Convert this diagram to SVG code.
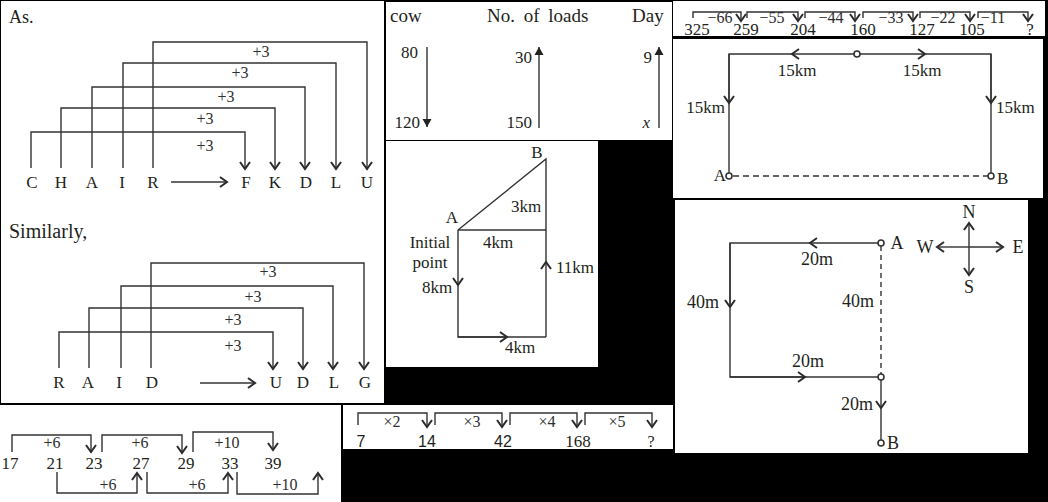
<svg xmlns="http://www.w3.org/2000/svg" width="1048" height="502" viewBox="0 0 1048 502">
<style>
.pn{fill:#fff}
.ln{fill:none;stroke:#333;stroke-width:1.4}
.ds{fill:none;stroke:#333;stroke-width:1.4;stroke-dasharray:6 4}
.ca{marker-end:url(#chev)}
.ta{marker-end:url(#tri)}
.dot{fill:#fff;stroke:#333;stroke-width:1.6}
text{font-family:"Liberation Serif","Times New Roman",serif;fill:#231f20}
.m{text-anchor:middle}
.e{text-anchor:end}
.lb{fill:#2e2e2e;font-size:16px}
.sn{font-family:"Liberation Sans",Arial,sans-serif}
</style>
<defs>
<marker id="chev" viewBox="-9 -6 11 12" markerUnits="userSpaceOnUse" markerWidth="11" markerHeight="12" refX="0" refY="0" orient="auto">
<path d="M-7,-5 L0,0 L-7,5" fill="none" stroke="#2b2b2b" stroke-width="2"/>
</marker>
<marker id="tri" viewBox="-9 -5 10 10" markerUnits="userSpaceOnUse" markerWidth="10" markerHeight="10" refX="0" refY="0" orient="auto">
<path d="M-8,-4.5 L0,0 L-8,4.5 Z" fill="#222"/>
</marker>
</defs>
<rect x="0" y="0" width="1048" height="502" fill="#000"/>

<!-- Panel 1: CHAIR / RAID -->
<g id="panel-chair">
<rect class="pn" x="1" y="1" width="383" height="402"/>
<g id="chair-connectors">
<path class="ln ca" d="M31,168 V132 H245 V169"/>
<path class="ln ca" d="M61,168 V108 H275 V169"/>
<path class="ln ca" d="M92,168 V87 H305 V169"/>
<path class="ln ca" d="M123,168 V63 H336 V169"/>
<path class="ln ca" d="M153,168 V42 H367 V169"/>
<path class="ln ca" d="M171,182 H227"/>
<path class="ln ca" d="M59,368 V332 H273 V369"/>
<path class="ln ca" d="M89,368 V308 H303 V369"/>
<path class="ln ca" d="M121,368 V286 H333 V369"/>
<path class="ln ca" d="M151,368 V263 H364 V369"/>
<path class="ln ca" d="M200,383 H255"/>
</g>
<g id="chair-nodes" font-size="17">
<text x="9" y="23" font-size="18">As.</text>
<text class="m" x="32" y="188">C</text>
<text class="m" x="61" y="188">H</text>
<text class="m" x="92" y="188">A</text>
<text class="m" x="122" y="188">I</text>
<text class="m" x="153" y="188">R</text>
<text class="m" x="246" y="188">F</text>
<text class="m" x="275" y="188">K</text>
<text class="m" x="306" y="188">D</text>
<text class="m" x="336" y="188">L</text>
<text class="m" x="367" y="188">U</text>
<text class="m lb" x="261" y="57">+3</text>
<text class="m lb" x="240" y="78">+3</text>
<text class="m lb" x="226" y="102">+3</text>
<text class="m lb" x="205" y="124">+3</text>
<text class="m lb" x="205" y="151">+3</text>
<text x="9" y="238" font-size="20">Similarly,</text>
<text class="m" x="59" y="388">R</text>
<text class="m" x="88" y="388">A</text>
<text class="m" x="119" y="388">I</text>
<text class="m" x="152" y="388">D</text>
<text class="m" x="276" y="388">U</text>
<text class="m" x="303" y="388">D</text>
<text class="m" x="334" y="388">L</text>
<text class="m" x="365" y="388">G</text>
<text class="m lb" x="268" y="277">+3</text>
<text class="m lb" x="253" y="302">+3</text>
<text class="m lb" x="233" y="325">+3</text>
<text class="m lb" x="233" y="351">+3</text>
</g>
</g>

<!-- Panel 2: cows / loads / days -->
<g id="panel-cow">
<rect class="pn" x="386" y="2" width="286" height="138"/>
<g id="cow-connectors">
<path class="ln ta" d="M427,47 V127"/>
<path class="ln ta" d="M539,128 V47"/>
<path class="ln ta" d="M659,128 V47"/>
</g>
<g id="cow-nodes" font-size="17">
<text x="390" y="22" font-size="19">cow</text>
<text x="487" y="22" font-size="19" word-spacing="4">No. of loads</text>
<text x="632" y="22" font-size="19">Day</text>
<text class="e" x="418" y="58">80</text>
<text class="e" x="420" y="128">120</text>
<text class="e" x="532" y="63">30</text>
<text class="e" x="532" y="128">150</text>
<text class="e" x="652" y="63">9</text>
<text class="e" x="650" y="128" font-style="italic">x</text>
</g>
</g>

<!-- Panel 3: triangle route -->
<g id="panel-route">
<rect class="pn" x="386" y="141" width="212" height="226"/>
<g id="route-connectors">
<path class="ln" d="M458,230 L546,159 V262"/>
<path class="ln ca" d="M546,337 V262"/>
<path class="ln" d="M458,230 H546"/>
<path class="ln ca" d="M458,230 V285"/>
<path class="ln" d="M458,285 V337 H507"/>
<path class="ln ca" d="M458,337 H507"/>
<path class="ln" d="M507,337 H546"/>
</g>
<g id="route-nodes" font-size="17">
<text class="m" x="537" y="158">B</text>
<text class="m" x="526" y="212">3km</text>
<text class="m" x="452" y="223">A</text>
<text class="m" x="498" y="248">4km</text>
<text class="m" x="430" y="248">Initial</text>
<text class="m" x="430" y="268">point</text>
<text class="m" x="437" y="293">8km</text>
<text x="556" y="273">11km</text>
<text class="m" x="520" y="353">4km</text>
</g>
</g>

<!-- Panel 4: series 325 -->
<g id="panel-series1">
<rect class="pn" x="673" y="1" width="372" height="35"/>
<g id="series1-connectors">
<path class="ln ca" d="M693,18 V12 H741 V21"/>
<path class="ln ca" d="M747,18 V12 H798 V21"/>
<path class="ln ca" d="M805,18 V12 H855 V21"/>
<path class="ln ca" d="M863,18 V12 H913 V21"/>
<path class="ln ca" d="M920,18 V12 H970 V21"/>
<path class="ln ca" d="M978,18 V12 H1028 V21"/>
</g>
<g id="series1-nodes" font-size="17">
<text class="m" x="697" y="35">325</text>
<text class="m" x="746" y="35">259</text>
<text class="m" x="803" y="35">204</text>
<text class="m" x="863" y="35">160</text>
<text class="m" x="922" y="35">127</text>
<text class="m" x="972" y="35">105</text>
<text class="m" x="1030" y="35">?</text>
<text class="m lb" x="720" y="23">−66</text>
<text class="m lb" x="772" y="23">−55</text>
<text class="m lb" x="831" y="23">−44</text>
<text class="m lb" x="891" y="23">−33</text>
<text class="m lb" x="943" y="23">−22</text>
<text class="m lb" x="993" y="23">−11</text>
</g>
</g>

<!-- Panel 5: 15km route -->
<g id="panel-15km">
<rect class="pn" x="673" y="39" width="370" height="159"/>
<g id="km-connectors">
<path class="ln ca" d="M854,54 H792"/>
<path class="ln" d="M792,54 H729 V103"/>
<path class="ln ca" d="M860,54 H925"/>
<path class="ln" d="M925,54 H991 V103"/>
<path class="ln ca" d="M729,54 V103"/>
<path class="ln" d="M729,103 V173"/>
<path class="ln ca" d="M991,54 V103"/>
<path class="ln" d="M991,103 V173"/>
<path class="ds" d="M733,176 H988"/>
</g>
<g id="km-nodes" font-size="17">
<circle class="dot" cx="857" cy="54" r="3"/>
<circle class="dot" cx="729" cy="176" r="3"/>
<circle class="dot" cx="991" cy="176" r="3"/>
<text class="m" x="797" y="76">15km</text>
<text class="m" x="922" y="76">15km</text>
<text class="e" x="725" y="113">15km</text>
<text x="996" y="113">15km</text>
<text class="e" x="726" y="181">A</text>
<text x="997" y="184">B</text>
</g>
</g>

<!-- Panel 6: 20m route with compass -->
<g id="panel-20m">
<rect class="pn" x="675" y="200" width="353" height="253"/>
<g id="m-connectors">
<path class="ln ca" d="M878,243 H810"/>
<path class="ln" d="M810,243 H730 V307"/>
<path class="ln ca" d="M730,243 V307"/>
<path class="ln" d="M730,307 V377 H805"/>
<path class="ln ca" d="M730,377 H805"/>
<path class="ln" d="M805,377 H878"/>
<path class="ds" d="M881,246 V374" style="stroke-dasharray:5 4"/>
<path class="ln ca" d="M881,380 V408"/>
<path class="ln" d="M881,408 V440"/>
<path class="ln ca" d="M969,247 V223"/>
<path class="ln ca" d="M969,247 V275"/>
<path class="ln ca" d="M969,247 H937"/>
<path class="ln ca" d="M969,247 H1003"/>
</g>
<g id="m-nodes" font-size="18">
<circle class="dot" cx="881" cy="243" r="3"/>
<circle class="dot" cx="881" cy="377" r="3"/>
<circle class="dot" cx="881" cy="443" r="3"/>
<text class="m" x="897" y="249">A</text>
<text class="m" x="817" y="265">20m</text>
<text class="m" x="703" y="308">40m</text>
<text class="m" x="808" y="367">20m</text>
<text class="m" x="858" y="307">40m</text>
<text class="m" x="857" y="410">20m</text>
<text class="m" x="893" y="449">B</text>
<text class="m" x="969" y="218">N</text>
<text class="m" x="969" y="293">S</text>
<text class="m" x="925" y="253">W</text>
<text class="m" x="1018" y="253">E</text>
</g>
</g>

<!-- Panel 7: series 17 -->
<g id="panel-series2">
<rect class="pn" x="0" y="405" width="341" height="97"/>
<g id="series2-connectors">
<path class="ln ca" d="M12,452 V435 H91 V452"/>
<path class="ln ca" d="M102,452 V435 H182 V453"/>
<path class="ln ca" d="M193,452 V432 H273 V450"/>
<path class="ln ca" d="M57,472 V493 H137 V473"/>
<path class="ln ca" d="M147,472 V493 H228 V473"/>
<path class="ln ca" d="M237,472 V494 H318 V473"/>
</g>
<g id="series2-nodes" font-size="17">
<text class="m" x="10" y="469">17</text>
<text class="m" x="55" y="469">21</text>
<text class="m" x="94" y="469">23</text>
<text class="m" x="141" y="469">27</text>
<text class="m" x="186" y="469">29</text>
<text class="m" x="230" y="469">33</text>
<text class="m" x="273" y="469">39</text>
<text class="m lb" x="52" y="448">+6</text>
<text class="m lb" x="140" y="448">+6</text>
<text class="m lb" x="227" y="448">+10</text>
<text class="m lb" x="108" y="490">+6</text>
<text class="m lb" x="197" y="490">+6</text>
<text class="m lb" x="285" y="490">+10</text>
</g>
</g>

<!-- Panel 8: series 7 -->
<g id="panel-series3">
<rect class="pn" x="343" y="405" width="330" height="44"/>
<g id="series3-connectors">
<path class="ln ca" d="M358,425 V413 H427 V427"/>
<path class="ln ca" d="M435,425 V413 H502 V427"/>
<path class="ln ca" d="M510,425 V413 H577 V427"/>
<path class="ln ca" d="M585,425 V413 H652 V427"/>
</g>
<g id="series3-nodes" font-size="16">
<text class="m sn" x="361" y="447">7</text>
<text class="m sn" x="427" y="447">14</text>
<text class="m sn" x="503" y="447">42</text>
<text class="m" x="578" y="447" font-size="17">168</text>
<text class="m" x="651" y="447">?</text>
<text class="m lb" x="392" y="427">×2</text>
<text class="m lb" x="472" y="427">×3</text>
<text class="m lb" x="547" y="427">×4</text>
<text class="m lb" x="617" y="427">×5</text>
</g>
</g>
</svg>
